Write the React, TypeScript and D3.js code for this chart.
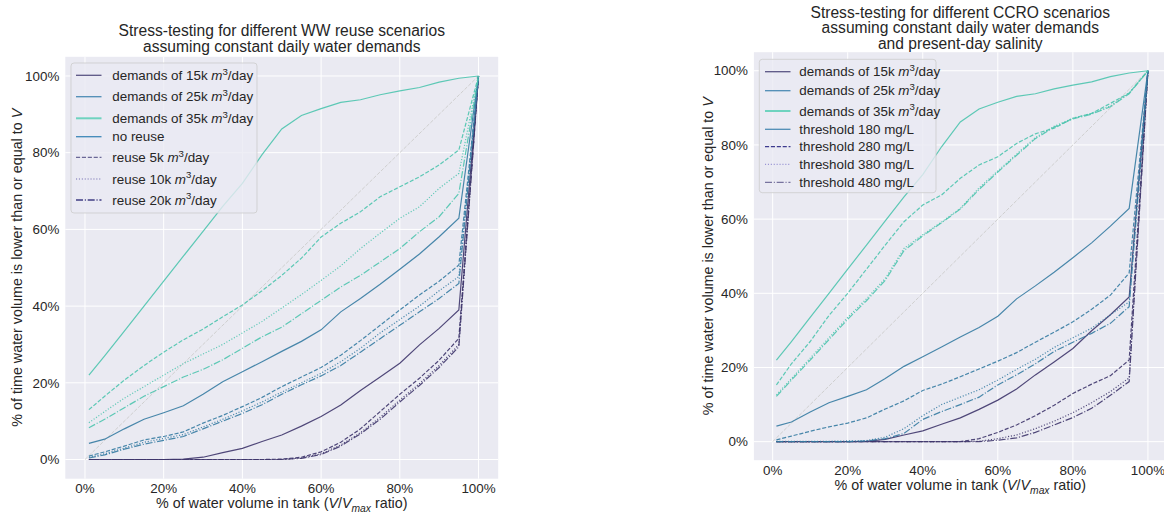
import * as d3 from "d3";

// x positions of the curves (V / Vmax)
const volumeRatio = [0.01, 0.05, 0.1, 0.15, 0.2, 0.25, 0.3, 0.35, 0.4, 0.45, 0.5, 0.55, 0.6, 0.65, 0.7, 0.75, 0.8, 0.85, 0.9, 0.95, 1.0];
const tickValues = [0, 0.2, 0.4, 0.6, 0.8, 1.0];
const diagonal = [0, 1];

// WW reuse scenarios
const ww15None = [0, 0, 0, 0, 0, 0.001, 0.006, 0.018, 0.029, 0.047, 0.064, 0.087, 0.112, 0.142, 0.18, 0.215, 0.251, 0.299, 0.342, 0.39, 1];
const ww15R5 = [0, 0, 0, 0, 0, 0, 0, 0, 0, 0, 0.001, 0.006, 0.02, 0.045, 0.08, 0.125, 0.17, 0.212, 0.259, 0.316, 1];
const ww15R10 = [0, 0, 0, 0, 0, 0, 0, 0, 0, 0, 0, 0.004, 0.015, 0.038, 0.07, 0.11, 0.155, 0.198, 0.245, 0.3, 1];
const ww15R20 = [0, 0, 0, 0, 0, 0, 0, 0, 0, 0, 0, 0.003, 0.013, 0.035, 0.067, 0.105, 0.15, 0.193, 0.24, 0.294, 1];
const ww25None = [0.042, 0.053, 0.08, 0.105, 0.122, 0.14, 0.17, 0.203, 0.229, 0.255, 0.282, 0.308, 0.338, 0.385, 0.42, 0.457, 0.496, 0.536, 0.581, 0.629, 1];
const ww25R5 = [0.009, 0.02, 0.035, 0.051, 0.06, 0.072, 0.095, 0.115, 0.138, 0.162, 0.19, 0.215, 0.24, 0.272, 0.31, 0.35, 0.39, 0.429, 0.465, 0.507, 1];
const ww25R10 = [0.006, 0.015, 0.03, 0.045, 0.055, 0.065, 0.085, 0.105, 0.127, 0.15, 0.176, 0.2, 0.225, 0.255, 0.29, 0.33, 0.365, 0.4, 0.44, 0.477, 1];
const ww25R20 = [0.004, 0.012, 0.027, 0.04, 0.05, 0.06, 0.08, 0.1, 0.12, 0.143, 0.17, 0.195, 0.218, 0.245, 0.28, 0.315, 0.35, 0.385, 0.42, 0.459, 1];
const ww35None = [0.22, 0.27, 0.335, 0.4, 0.465, 0.53, 0.595, 0.66, 0.72, 0.795, 0.862, 0.897, 0.915, 0.931, 0.938, 0.951, 0.961, 0.97, 0.984, 0.994, 1];
const ww35R5 = [0.13, 0.165, 0.207, 0.245, 0.28, 0.312, 0.34, 0.372, 0.403, 0.44, 0.48, 0.525, 0.58, 0.616, 0.646, 0.685, 0.711, 0.737, 0.768, 0.807, 1];
const ww35R10 = [0.096, 0.125, 0.16, 0.19, 0.22, 0.25, 0.275, 0.3, 0.33, 0.36, 0.395, 0.43, 0.467, 0.505, 0.55, 0.59, 0.629, 0.659, 0.707, 0.746, 1];
const ww35R20 = [0.083, 0.105, 0.135, 0.165, 0.19, 0.215, 0.235, 0.26, 0.29, 0.32, 0.345, 0.38, 0.415, 0.45, 0.48, 0.515, 0.55, 0.594, 0.633, 0.694, 1];

// CCRO scenarios (threshold 180 mg/L coincides with the baseline)
const ccro15T180 = [0, 0, 0, 0, 0, 0.001, 0.006, 0.018, 0.029, 0.047, 0.064, 0.087, 0.112, 0.142, 0.18, 0.215, 0.251, 0.299, 0.342, 0.39, 1];
const ccro15T280 = [0, 0, 0, 0, 0, 0, 0, 0, 0, 0, 0, 0.008, 0.025, 0.045, 0.07, 0.098, 0.13, 0.155, 0.178, 0.22, 1];
const ccro15T380 = [0, 0, 0, 0, 0, 0, 0, 0, 0, 0, 0, 0.001, 0.008, 0.018, 0.035, 0.055, 0.078, 0.105, 0.135, 0.172, 1];
const ccro15T480 = [0, 0, 0, 0, 0, 0, 0, 0, 0, 0, 0, 0, 0.004, 0.01, 0.025, 0.045, 0.065, 0.09, 0.125, 0.162, 1];
const ccro25T180 = [0.042, 0.053, 0.08, 0.105, 0.122, 0.14, 0.17, 0.203, 0.229, 0.255, 0.282, 0.308, 0.338, 0.385, 0.42, 0.457, 0.496, 0.536, 0.581, 0.629, 1];
const ccro25T280 = [0.005, 0.015, 0.028, 0.04, 0.05, 0.064, 0.088, 0.11, 0.138, 0.155, 0.175, 0.196, 0.217, 0.24, 0.268, 0.295, 0.323, 0.357, 0.395, 0.455, 1];
const ccro25T380 = [0.001, 0.001, 0.001, 0.001, 0.002, 0.003, 0.012, 0.035, 0.07, 0.1, 0.12, 0.14, 0.166, 0.195, 0.222, 0.254, 0.28, 0.306, 0.342, 0.377, 1];
const ccro25T480 = [0, 0, 0, 0, 0, 0.002, 0.008, 0.022, 0.06, 0.081, 0.1, 0.12, 0.153, 0.18, 0.21, 0.243, 0.268, 0.292, 0.319, 0.364, 1];
const ccro35T180 = [0.22, 0.27, 0.335, 0.4, 0.465, 0.53, 0.595, 0.66, 0.72, 0.795, 0.862, 0.897, 0.915, 0.931, 0.938, 0.951, 0.961, 0.97, 0.984, 0.994, 1];
const ccro35T280 = [0.153, 0.21, 0.27, 0.34, 0.4, 0.465, 0.53, 0.593, 0.638, 0.665, 0.71, 0.746, 0.768, 0.804, 0.83, 0.845, 0.872, 0.885, 0.912, 0.94, 1];
const ccro35T380 = [0.126, 0.17, 0.225, 0.28, 0.335, 0.385, 0.44, 0.521, 0.558, 0.592, 0.629, 0.684, 0.73, 0.775, 0.82, 0.85, 0.872, 0.885, 0.905, 0.94, 1];
const ccro35T480 = [0.122, 0.166, 0.22, 0.275, 0.33, 0.38, 0.435, 0.515, 0.555, 0.59, 0.627, 0.68, 0.727, 0.772, 0.817, 0.848, 0.87, 0.883, 0.903, 0.938, 1];

const demandLabels = ["15k", "25k", "35k"];
const reuseLabels = ["5k", "10k", "20k"];
const thresholdLabels = ["180", "280", "380", "480"];

const FONT = "Arial, 'Liberation Sans', Helvetica, sans-serif";
const BG = "#EAEAF2";
const TXT = "#262626";
const demandColors = ["#3E356B", "#357BA2", "#4CC4AE"];
const dashes: Record<string, string | undefined> = {
  solid: undefined,
  dashed: "4.1,1.8",
  dotted: "1.1,1.8",
  dashdot: "7,1.8,1.1,1.8",
};

type Seg = { t: string; i?: boolean; sup?: boolean; sub?: boolean };

function Rich({ segs, size }: { segs: Seg[]; size: number }) {
  let shift = 0;
  return (
    <>
      {segs.map((s, k) => {
        const target = s.sup ? -size * 0.4 : s.sub ? size * 0.25 : 0;
        const dy = target - shift;
        shift = target;
        return (
          <tspan
            key={k}
            dy={dy || undefined}
            fontStyle={s.i ? "italic" : undefined}
            fontSize={s.sup || s.sub ? size * 0.72 : undefined}
          >
            {s.t}
          </tspan>
        );
      })}
    </>
  );
}

const m3 = (pre: string): Seg[] => [{ t: pre + " " }, { t: "m", i: true }, { t: "3", sup: true }, { t: "/day" }];

type Series = { values: number[]; color: string; style: string };
type LegendRow = { segs: Seg[]; color: string; style: string; width?: number; cy: number };

type PanelCfg = {
  left: number; right: number; top: number; bottom: number;
  title: string[]; titleY: number[];
  yLabelX: number; xLabelY: number;
  series: Series[];
  legend: { x: number; y: number; w: number; h: number; handleX: number; textX: number; rows: LegendRow[] };
};

function Panel({ cfg }: { cfg: PanelCfg }) {
  const x = d3.scaleLinear().domain([-0.05, 1.05]).range([cfg.left, cfg.right]);
  const y = d3.scaleLinear().domain([-0.05, 1.05]).range([cfg.bottom, cfg.top]);
  const line = d3.line<number>().x((_, i) => x(volumeRatio[i])).y((d) => y(d));
  const diag = d3.line<number>().x((d) => x(d)).y((d) => y(d));
  const fmt = d3.format(".0%");
  const cx = (cfg.left + cfg.right) / 2;
  const cy = (cfg.top + cfg.bottom) / 2;
  const lg = cfg.legend;

  return (
    <g fontFamily={FONT}>
      <rect x={cfg.left} y={cfg.top} width={cfg.right - cfg.left} height={cfg.bottom - cfg.top} fill={BG} />
      {tickValues.map((t) => (
        <g key={t}>
          <line x1={x(t)} x2={x(t)} y1={cfg.top} y2={cfg.bottom} stroke="#fff" strokeWidth={1} />
          <line x1={cfg.left} x2={cfg.right} y1={y(t)} y2={y(t)} stroke="#fff" strokeWidth={1} />
          <text x={x(t)} y={cfg.bottom + 14.5} textAnchor="middle" fontSize={13.4} fill={TXT}>{fmt(t)}</text>
          <text x={cfg.left - 6} y={y(t) + 4.7} textAnchor="end" fontSize={13.4} fill={TXT}>{fmt(t)}</text>
        </g>
      ))}
      <path d={diag(diagonal) ?? ""} fill="none" stroke="#cfcfcf" strokeWidth={1} strokeDasharray="3.7,1.6" />
      {cfg.series.map((s, k) => (
        <path key={k} d={line(s.values) ?? ""} fill="none" stroke={s.color} strokeWidth={1.2} strokeOpacity={0.9} strokeDasharray={dashes[s.style]} />
      ))}
      {cfg.title.map((t, k) => (
        <text key={k} x={cx} y={cfg.titleY[k]} textAnchor="middle" fontSize={15.6} fill={TXT}>{t}</text>
      ))}
      <text transform={`translate(${cfg.yLabelX},${cy}) rotate(-90)`} textAnchor="middle" fontSize={14.3} fill={TXT}>
        <Rich size={14.3} segs={[{ t: "% of time water volume is lower than or equal to " }, { t: "V", i: true }]} />
      </text>
      <text x={cx} y={cfg.xLabelY} textAnchor="middle" fontSize={14.3} fill={TXT}>
        <Rich size={14.3} segs={[{ t: "% of water volume in tank (" }, { t: "V", i: true }, { t: "/" }, { t: "V", i: true }, { t: "max", i: true, sub: true }, { t: " ratio)" }]} />
      </text>
      <rect x={lg.x} y={lg.y} width={lg.w} height={lg.h} rx={3} fill={BG} fillOpacity={0.8} stroke="#cccccc" strokeOpacity={0.8} strokeWidth={1} />
      {lg.rows.map((r, k) => (
        <g key={k}>
          <line x1={lg.handleX} x2={lg.handleX + 25.5} y1={r.cy} y2={r.cy} stroke={r.color} strokeWidth={r.width ?? 1.3} strokeDasharray={dashes[r.style]} />
          <text x={lg.textX} y={r.cy + 4.7} fontSize={13.4} fill={TXT}>
            <Rich size={13.4} segs={r.segs} />
          </text>
        </g>
      ))}
    </g>
  );
}

const wwGroups = [
  [ww15None, ww15R5, ww15R10, ww15R20],
  [ww25None, ww25R5, ww25R10, ww25R20],
  [ww35None, ww35R5, ww35R10, ww35R20],
];
const ccroGroups = [
  [ccro15T180, ccro15T280, ccro15T380, ccro15T480],
  [ccro25T180, ccro25T280, ccro25T380, ccro25T480],
  [ccro35T180, ccro35T280, ccro35T380, ccro35T480],
];
const styleOrder = ["solid", "dashed", "dotted", "dashdot"];

const toSeries = (groups: number[][][]): Series[] =>
  groups.flatMap((g, d) => g.map((values, s) => ({ values, color: demandColors[d], style: styleOrder[s] })));

const leftCfg: PanelCfg = {
  left: 65.3, right: 498.2, top: 56.8, bottom: 478.7,
  title: ["Stress-testing for different WW reuse scenarios", "assuming constant daily water demands"],
  titleY: [36, 52],
  yLabelX: 22, xLabelY: 508,
  series: toSeries(wwGroups),
  legend: {
    x: 71, y: 63, w: 186, h: 150, handleX: 76, textX: 112.3,
    rows: [
      { segs: m3("demands of " + demandLabels[0]), color: "#5b5684", style: "solid", cy: 75.3 },
      { segs: m3("demands of " + demandLabels[1]), color: "#4f8db5", style: "solid", cy: 96.7 },
      { segs: m3("demands of " + demandLabels[2]), color: "#6fd3bf", style: "solid", width: 2, cy: 118.3 },
      { segs: [{ t: "no reuse" }], color: "#3f88b8", style: "solid", cy: 136.7 },
      { segs: m3("reuse " + reuseLabels[0]), color: "#6b6896", style: "dashed", cy: 157.3 },
      { segs: m3("reuse " + reuseLabels[1]), color: "#9c98c8", style: "dotted", cy: 179 },
      { segs: m3("reuse " + reuseLabels[2]), color: "#403e84", style: "dashdot", cy: 200 },
    ],
  },
};

const rightCfg: PanelCfg = {
  left: 753.9, right: 1166.7, top: 52.2, bottom: 460.2,
  title: ["Stress-testing for different CCRO scenarios", "assuming constant daily water demands", "and present-day salinity"],
  titleY: [17.5, 33, 48.5],
  yLabelX: 713, xLabelY: 490,
  series: toSeries(ccroGroups),
  legend: {
    x: 759.3, y: 59.3, w: 176.7, h: 133.4, handleX: 765, textX: 799.3,
    rows: [
      { segs: m3("demands of " + demandLabels[0]), color: "#5b5684", style: "solid", cy: 71.7 },
      { segs: m3("demands of " + demandLabels[1]), color: "#4f8db5", style: "solid", cy: 90.7 },
      { segs: m3("demands of " + demandLabels[2]), color: "#6fd3bf", style: "solid", width: 2, cy: 111 },
      { segs: [{ t: `threshold ${thresholdLabels[0]} mg/L` }], color: "#4f8db5", style: "solid", cy: 129.3 },
      { segs: [{ t: `threshold ${thresholdLabels[1]} mg/L` }], color: "#3d3b8e", style: "dashed", cy: 146.7 },
      { segs: [{ t: `threshold ${thresholdLabels[2]} mg/L` }], color: "#9a95d4", style: "dotted", cy: 164.3 },
      { segs: [{ t: `threshold ${thresholdLabels[3]} mg/L` }], color: "#77739e", style: "dashdot", cy: 182.3 },
    ],
  },
};

export default function App() {
  return (
    <svg width={1164} height={514} style={{ position: "absolute", left: 0, top: 0, background: "#fff" }}>
      <Panel cfg={leftCfg} />
      <Panel cfg={rightCfg} />
    </svg>
  );
}
